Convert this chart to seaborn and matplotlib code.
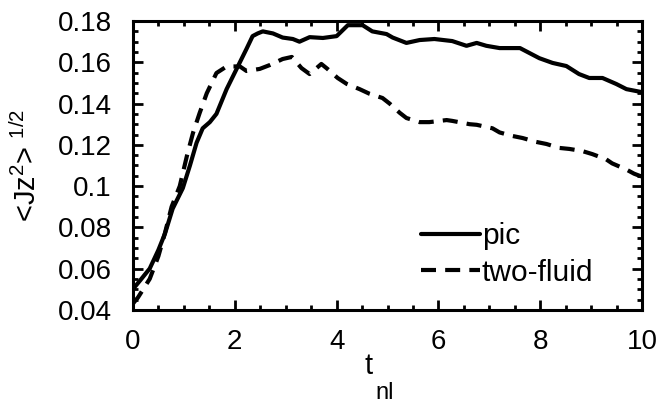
import numpy as np
import pandas as pd
import matplotlib
matplotlib.use("Agg")
import matplotlib.pyplot as plt
from matplotlib.ticker import MultipleLocator
import seaborn as sns

# values
pic_t = [0, 0.15, 0.33, 0.5, 0.63, 0.78, 0.98, 1.12, 1.25, 1.37, 1.51, 1.64, 1.84, 2.04, 2.23,
         2.35, 2.45, 2.55, 2.75, 2.94, 3.14, 3.27, 3.47, 3.73, 4.0, 4.22, 4.51, 4.7, 4.98,
         5.1, 5.37, 5.63, 5.92, 6.27, 6.55, 6.75, 6.94, 7.2, 7.6, 7.98, 8.24, 8.51, 8.76,
         8.96, 9.22, 9.49, 9.69, 10.0]
pic_v = [0.050, 0.0545, 0.060, 0.069, 0.077, 0.089, 0.099, 0.110, 0.121, 0.128, 0.131, 0.135,
         0.147, 0.157, 0.1665, 0.1727, 0.174, 0.175, 0.174, 0.172, 0.1713, 0.170, 0.1722,
         0.1718, 0.1727, 0.178, 0.178, 0.175, 0.1737, 0.172, 0.1694, 0.1708, 0.1713, 0.1703,
         0.168, 0.1694, 0.168, 0.1669, 0.1669, 0.162, 0.1597, 0.1582, 0.1543, 0.1524,
         0.1524, 0.1495, 0.147, 0.1455]

two_t = [0, 0.1, 0.33, 0.5, 0.63, 0.76, 0.92, 1.06, 1.18, 1.31, 1.45, 1.64, 1.84, 2.1, 2.23,
         2.49, 2.69, 2.94, 3.12, 3.31, 3.47, 3.7, 3.82, 4.02, 4.2, 4.45, 4.65, 4.9, 5.04,
         5.24, 5.37, 5.63, 5.82, 6.16, 6.27, 6.61, 6.75, 7.06, 7.2, 7.45, 7.65, 7.92, 8.12,
         8.37, 8.57, 8.82, 9.02, 9.29, 9.41, 9.69, 9.84, 10.0]
two_v = [0.043, 0.046, 0.055, 0.066, 0.0773, 0.090, 0.100, 0.1146, 0.1258, 0.1354, 0.145,
         0.1548, 0.158, 0.158, 0.1558, 0.1568, 0.1587, 0.1616, 0.1626, 0.1572, 0.1543,
         0.1592, 0.1568, 0.1524, 0.1495, 0.147, 0.1447, 0.1427, 0.140, 0.1355, 0.133, 0.131,
         0.131, 0.132, 0.1316, 0.130, 0.1297, 0.128, 0.126, 0.1243, 0.1233, 0.1214, 0.1204,
         0.1185, 0.118, 0.117, 0.1155, 0.113, 0.111, 0.108, 0.106, 0.1045]

x_ticks = [0, 2, 4, 6, 8, 10]
y_ticks = [0.04, 0.06, 0.08, 0.1, 0.12, 0.14, 0.16, 0.18]
y_ticklabels = ["0.04", "0.06", "0.08", "0.1", "0.12", "0.14", "0.16", "0.18"]

df = pd.concat([
    pd.DataFrame({"t": pic_t, "v": pic_v, "run": "pic"}),
    pd.DataFrame({"t": two_t, "v": two_v, "run": "two-fluid"}),
], ignore_index=True)

sns.set_style("ticks", {"text.color": "black", "axes.labelcolor": "black",
                        "xtick.color": "black", "ytick.color": "black",
                        "axes.edgecolor": "black"})
plt.rcParams["font.family"] = ["Liberation Sans", "DejaVu Sans"]
plt.rcParams["mathtext.fontset"] = "custom"
plt.rcParams["mathtext.rm"] = "Liberation Sans"
plt.rcParams["mathtext.it"] = "Liberation Sans"

fig = plt.figure(figsize=(6.58, 4.05), dpi=100)
ax = fig.add_axes([0.202, 0.235, 0.774, 0.713])

sns.lineplot(data=df, x="t", y="v", hue="run", style="run",
             palette={"pic": "black", "two-fluid": "black"},
             dashes={"pic": "", "two-fluid": (3.6, 2.2)},
             linewidth=3, ax=ax, legend=True, sort=False)

ax.set_xlim(0, 10)
ax.set_ylim(0.04, 0.18)
ax.set_xticks(x_ticks)
ax.set_yticks(y_ticks)
ax.set_yticklabels(y_ticklabels)
ax.xaxis.set_minor_locator(MultipleLocator(0.5))
ax.yaxis.set_minor_locator(MultipleLocator(0.005))
ax.tick_params(which="both", direction="in", top=True, right=True, width=2, labelsize=20)
ax.tick_params(which="major", length=7)
ax.tick_params(which="minor", length=3.5)
ax.tick_params(axis="x", pad=14)
ax.tick_params(axis="y", pad=14)
for sp in ax.spines.values():
    sp.set_linewidth(2.2)

# x label: "t" with a gnuplot-style lowered subscript
ax.set_xlabel("")
fig.text(369 / 658, 1 - 366 / 405, "t", fontsize=21, ha="center", va="center")
fig.text(385 / 658, 1 - 393 / 405, "nl", fontsize=17, ha="center", va="center")
ax.set_ylabel(r"<Jz$^{2}$> $^{1/2}$", fontsize=21, labelpad=4)

leg = ax.legend(loc="center left", bbox_to_anchor=(0.565, 0.192), frameon=False,
                fontsize=21.5, handlelength=2.0, handletextpad=0.05, labelspacing=0.28,
                borderpad=0, borderaxespad=0)

# line the y tick labels up with the reference (right edge near x = 112 px)
fig.canvas.draw()
rend = fig.canvas.get_renderer()
right = max(t.get_window_extent(rend).x1 for t in ax.get_yticklabels() if t.get_text())
ax.tick_params(axis="y", pad=14 + (right - 112) * 0.72)
lab = ax.yaxis.label.get_window_extent(rend)
ax.yaxis.labelpad = 4 + ((lab.x0 + lab.x1) / 2 - 28) * 0.72

fig.savefig("out.png", dpi=100)
